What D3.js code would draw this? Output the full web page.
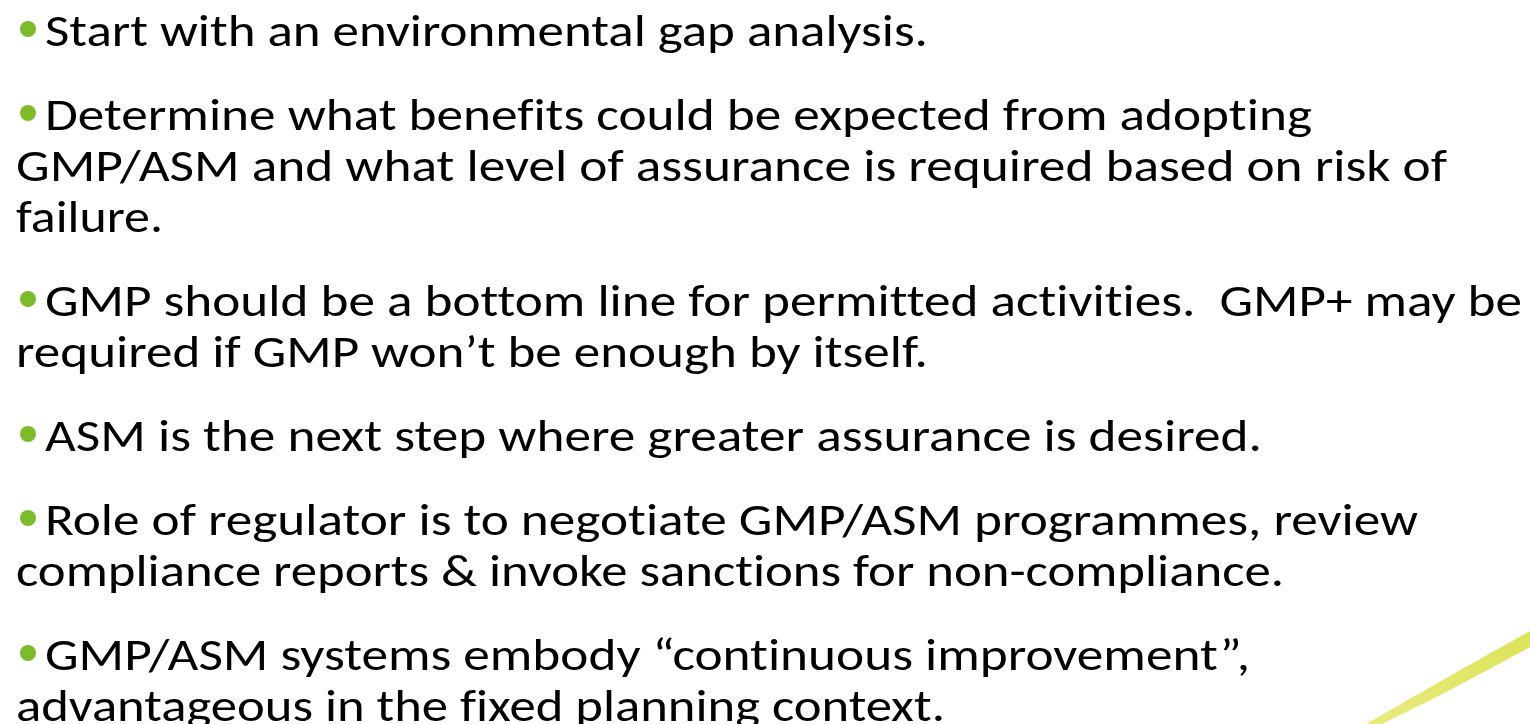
<!DOCTYPE html>
<html>
<head>
<meta charset="utf-8">
<script src="https://cdn.jsdelivr.net/npm/d3@7"></script>
<style>
  html, body { margin: 0; padding: 0; background: #fff; }
  svg { display: block; }
  text { font-variant-ligatures: none; font-feature-settings: "liga" 0, "clig" 0; }
</style>
</head>
<body>
<svg id="slide"></svg>
<script>
// slide text, one entry per bullet, one string per wrapped line
const bullet1 = ["Start with an environmental gap analysis."];
const bullet2 = ["Determine what benefits could be expected from adopting",
                 "GMP/ASM and what level of assurance is required based on risk of",
                 "failure."];
const bullet3 = ["GMP should be a bottom line for permitted activities.\u00a0 GMP+ may be",
                 "required if GMP won\u2019t be enough by itself."];
const bullet4 = ["ASM is the next step where greater assurance is desired."];
const bullet5 = ["Role of regulator is to negotiate GMP/ASM programmes, review",
                 "compliance reports & invoke sanctions for non-compliance."];
const bullet6 = ["GMP/ASM systems embody \u201ccontinuous improvement\u201d,",
                 "advantageous in the fixed planning context."];

const bullets = [bullet1, bullet2, bullet3, bullet4, bullet5, bullet6];

// right edge of every wrapped line, as laid out on the original slide (layout only)
const lineRight = [[928], [1312, 1447, 163], [1522, 928], [1262], [1418, 1284], [1250, 945]];

const width = 1530, height = 724;
const fontSize = 46;
const firstBaseline = 46;
const linePitch = 51;
const paraGap = 33;
const bulletX = 28, textX = 45, wrapX = 16;

const svg = d3.select("#slide")
    .attr("width", width)
    .attr("height", height);

// green swoosh in the lower right corner
const defs = svg.append("defs");
const grad = defs.append("linearGradient")
    .attr("id", "swoosh")
    .attr("x1", "0%").attr("x2", "100%");
grad.append("stop").attr("offset", "0%").style("stop-color", "#e8eb80");
grad.append("stop").attr("offset", "100%").style("stop-color", "#dde35a");

const upper = [[1366, 724], [1450, 676], [1532, 630]];
const lower = [[1532, 646], [1452, 689], [1378, 726]];
const edge = d3.line().curve(d3.curveCatmullRom);
svg.append("path")
    .attr("d", edge(upper) + "L" + edge(lower).slice(1) + "Z")
    .attr("fill", "url(#swoosh)");

// lay out the lines
const rows = [];
let y = firstBaseline;
bullets.forEach(function(lines, p) {
    lines.forEach(function(t, i) {
        rows.push({ text: t, y: y, first: i === 0, right: lineRight[p][i] });
        y += linePitch;
    });
    y += paraGap;
});

const text = svg.append("g")
    .attr("font-family", "Carlito, Calibri, Lato, 'Open Sans', sans-serif")
    .attr("font-size", fontSize)
    .attr("fill", "#000");

// green bullet dots
text.selectAll("circle")
    .data(rows.filter(function(d) { return d.first; }))
    .enter().append("circle")
    .attr("cx", bulletX)
    .attr("cy", function(d) { return d.y - 17; })
    .attr("r", 8)
    .attr("fill", "#7ebb2b");

text.selectAll("text")
    .data(rows)
    .enter().append("text")
    .attr("x", function(d) { return d.first ? textX : wrapX; })
    .attr("y", function(d) { return d.y; })
    .attr("textLength", function(d) { return d.right - (d.first ? textX : wrapX); })
    .attr("lengthAdjust", "spacingAndGlyphs")
    .style("white-space", "pre")
    .text(function(d) { return d.text; });
</script>
</body>
</html>
